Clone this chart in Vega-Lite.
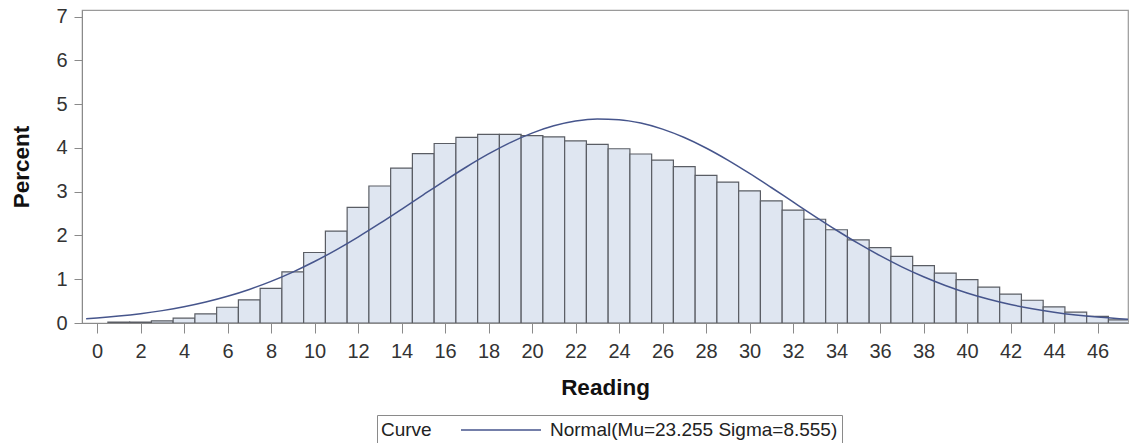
{
  "$schema": "https://vega.github.io/schema/vega-lite/v6.json",
  "autosize": {"type": "none"},
  "width": 1046,
  "height": 313,
  "padding": {"left": 82, "top": 10, "right": 2, "bottom": 120},
  "background": "white",
  "config": {
    "font": "Liberation Sans",
    "view": {"stroke": "#9a9a9a", "strokeWidth": 1.2},
    "axis": {
      "domainColor": "#8a8a8a",
      "tickColor": "#8a8a8a",
      "labelColor": "#333333",
      "titleColor": "#111111",
      "labelFontSize": 20,
      "titleFontSize": 22.5,
      "titleFontWeight": "bold",
      "grid": false,
      "labelFont": "Liberation Sans",
      "titleFont": "Liberation Sans"
    }
  },
  "datasets": {
    "bars": [
      {"reading": 1, "lo": 0.5, "hi": 1.5, "percent": 0.02},
      {"reading": 2, "lo": 1.5, "hi": 2.5, "percent": 0.02},
      {"reading": 3, "lo": 2.5, "hi": 3.5, "percent": 0.05},
      {"reading": 4, "lo": 3.5, "hi": 4.5, "percent": 0.11},
      {"reading": 5, "lo": 4.5, "hi": 5.5, "percent": 0.21},
      {"reading": 6, "lo": 5.5, "hi": 6.5, "percent": 0.36},
      {"reading": 7, "lo": 6.5, "hi": 7.5, "percent": 0.53},
      {"reading": 8, "lo": 7.5, "hi": 8.5, "percent": 0.79},
      {"reading": 9, "lo": 8.5, "hi": 9.5, "percent": 1.17},
      {"reading": 10, "lo": 9.5, "hi": 10.5, "percent": 1.61},
      {"reading": 11, "lo": 10.5, "hi": 11.5, "percent": 2.10},
      {"reading": 12, "lo": 11.5, "hi": 12.5, "percent": 2.64},
      {"reading": 13, "lo": 12.5, "hi": 13.5, "percent": 3.13},
      {"reading": 14, "lo": 13.5, "hi": 14.5, "percent": 3.54},
      {"reading": 15, "lo": 14.5, "hi": 15.5, "percent": 3.87},
      {"reading": 16, "lo": 15.5, "hi": 16.5, "percent": 4.10},
      {"reading": 17, "lo": 16.5, "hi": 17.5, "percent": 4.24},
      {"reading": 18, "lo": 17.5, "hi": 18.5, "percent": 4.31},
      {"reading": 19, "lo": 18.5, "hi": 19.5, "percent": 4.31},
      {"reading": 20, "lo": 19.5, "hi": 20.5, "percent": 4.28},
      {"reading": 21, "lo": 20.5, "hi": 21.5, "percent": 4.25},
      {"reading": 22, "lo": 21.5, "hi": 22.5, "percent": 4.16},
      {"reading": 23, "lo": 22.5, "hi": 23.5, "percent": 4.08},
      {"reading": 24, "lo": 23.5, "hi": 24.5, "percent": 3.98},
      {"reading": 25, "lo": 24.5, "hi": 25.5, "percent": 3.86},
      {"reading": 26, "lo": 25.5, "hi": 26.5, "percent": 3.72},
      {"reading": 27, "lo": 26.5, "hi": 27.5, "percent": 3.57},
      {"reading": 28, "lo": 27.5, "hi": 28.5, "percent": 3.37},
      {"reading": 29, "lo": 28.5, "hi": 29.5, "percent": 3.22},
      {"reading": 30, "lo": 29.5, "hi": 30.5, "percent": 3.02},
      {"reading": 31, "lo": 30.5, "hi": 31.5, "percent": 2.79},
      {"reading": 32, "lo": 31.5, "hi": 32.5, "percent": 2.58},
      {"reading": 33, "lo": 32.5, "hi": 33.5, "percent": 2.37},
      {"reading": 34, "lo": 33.5, "hi": 34.5, "percent": 2.13},
      {"reading": 35, "lo": 34.5, "hi": 35.5, "percent": 1.90},
      {"reading": 36, "lo": 35.5, "hi": 36.5, "percent": 1.72},
      {"reading": 37, "lo": 36.5, "hi": 37.5, "percent": 1.52},
      {"reading": 38, "lo": 37.5, "hi": 38.5, "percent": 1.31},
      {"reading": 39, "lo": 38.5, "hi": 39.5, "percent": 1.14},
      {"reading": 40, "lo": 39.5, "hi": 40.5, "percent": 0.99},
      {"reading": 41, "lo": 40.5, "hi": 41.5, "percent": 0.82},
      {"reading": 42, "lo": 41.5, "hi": 42.5, "percent": 0.66},
      {"reading": 43, "lo": 42.5, "hi": 43.5, "percent": 0.52},
      {"reading": 44, "lo": 43.5, "hi": 44.5, "percent": 0.37},
      {"reading": 45, "lo": 44.5, "hi": 45.5, "percent": 0.25},
      {"reading": 46, "lo": 45.5, "hi": 46.5, "percent": 0.15},
      {"reading": 47, "lo": 46.5, "hi": 47.5, "percent": 0.07}
    ],
    "curve": [
      {"x": -0.5, "pct": 0.0987, "curve": "Normal(Mu=23.255 Sigma=8.555)"},
      {"x": 0, "pct": 0.1159, "curve": "Normal(Mu=23.255 Sigma=8.555)"},
      {"x": 1, "pct": 0.1582, "curve": "Normal(Mu=23.255 Sigma=8.555)"},
      {"x": 2, "pct": 0.2130, "curve": "Normal(Mu=23.255 Sigma=8.555)"},
      {"x": 3, "pct": 0.2828, "curve": "Normal(Mu=23.255 Sigma=8.555)"},
      {"x": 4, "pct": 0.3704, "curve": "Normal(Mu=23.255 Sigma=8.555)"},
      {"x": 5, "pct": 0.4785, "curve": "Normal(Mu=23.255 Sigma=8.555)"},
      {"x": 6, "pct": 0.6100, "curve": "Normal(Mu=23.255 Sigma=8.555)"},
      {"x": 7, "pct": 0.7669, "curve": "Normal(Mu=23.255 Sigma=8.555)"},
      {"x": 8, "pct": 0.9511, "curve": "Normal(Mu=23.255 Sigma=8.555)"},
      {"x": 9, "pct": 1.1635, "curve": "Normal(Mu=23.255 Sigma=8.555)"},
      {"x": 10, "pct": 1.4041, "curve": "Normal(Mu=23.255 Sigma=8.555)"},
      {"x": 11, "pct": 1.6714, "curve": "Normal(Mu=23.255 Sigma=8.555)"},
      {"x": 12, "pct": 1.9626, "curve": "Normal(Mu=23.255 Sigma=8.555)"},
      {"x": 13, "pct": 2.2732, "curve": "Normal(Mu=23.255 Sigma=8.555)"},
      {"x": 14, "pct": 2.5973, "curve": "Normal(Mu=23.255 Sigma=8.555)"},
      {"x": 15, "pct": 2.9275, "curve": "Normal(Mu=23.255 Sigma=8.555)"},
      {"x": 16, "pct": 3.2545, "curve": "Normal(Mu=23.255 Sigma=8.555)"},
      {"x": 17, "pct": 3.5693, "curve": "Normal(Mu=23.255 Sigma=8.555)"},
      {"x": 18, "pct": 3.8613, "curve": "Normal(Mu=23.255 Sigma=8.555)"},
      {"x": 19, "pct": 4.1205, "curve": "Normal(Mu=23.255 Sigma=8.555)"},
      {"x": 20, "pct": 4.3374, "curve": "Normal(Mu=23.255 Sigma=8.555)"},
      {"x": 21, "pct": 4.5038, "curve": "Normal(Mu=23.255 Sigma=8.555)"},
      {"x": 22, "pct": 4.6131, "curve": "Normal(Mu=23.255 Sigma=8.555)"},
      {"x": 23, "pct": 4.6609, "curve": "Normal(Mu=23.255 Sigma=8.555)"},
      {"x": 24, "pct": 4.6454, "curve": "Normal(Mu=23.255 Sigma=8.555)"},
      {"x": 25, "pct": 4.5670, "curve": "Normal(Mu=23.255 Sigma=8.555)"},
      {"x": 26, "pct": 4.4290, "curve": "Normal(Mu=23.255 Sigma=8.555)"},
      {"x": 27, "pct": 4.2369, "curve": "Normal(Mu=23.255 Sigma=8.555)"},
      {"x": 28, "pct": 3.9982, "curve": "Normal(Mu=23.255 Sigma=8.555)"},
      {"x": 29, "pct": 3.7217, "curve": "Normal(Mu=23.255 Sigma=8.555)"},
      {"x": 30, "pct": 3.4173, "curve": "Normal(Mu=23.255 Sigma=8.555)"},
      {"x": 31, "pct": 3.0953, "curve": "Normal(Mu=23.255 Sigma=8.555)"},
      {"x": 32, "pct": 2.7654, "curve": "Normal(Mu=23.255 Sigma=8.555)"},
      {"x": 33, "pct": 2.4373, "curve": "Normal(Mu=23.255 Sigma=8.555)"},
      {"x": 34, "pct": 2.1189, "curve": "Normal(Mu=23.255 Sigma=8.555)"},
      {"x": 35, "pct": 1.8171, "curve": "Normal(Mu=23.255 Sigma=8.555)"},
      {"x": 36, "pct": 1.5372, "curve": "Normal(Mu=23.255 Sigma=8.555)"},
      {"x": 37, "pct": 1.2826, "curve": "Normal(Mu=23.255 Sigma=8.555)"},
      {"x": 38, "pct": 1.0559, "curve": "Normal(Mu=23.255 Sigma=8.555)"},
      {"x": 39, "pct": 0.8573, "curve": "Normal(Mu=23.255 Sigma=8.555)"},
      {"x": 40, "pct": 0.6866, "curve": "Normal(Mu=23.255 Sigma=8.555)"},
      {"x": 41, "pct": 0.5424, "curve": "Normal(Mu=23.255 Sigma=8.555)"},
      {"x": 42, "pct": 0.4228, "curve": "Normal(Mu=23.255 Sigma=8.555)"},
      {"x": 43, "pct": 0.3252, "curve": "Normal(Mu=23.255 Sigma=8.555)"},
      {"x": 44, "pct": 0.2465, "curve": "Normal(Mu=23.255 Sigma=8.555)"},
      {"x": 45, "pct": 0.1844, "curve": "Normal(Mu=23.255 Sigma=8.555)"},
      {"x": 46, "pct": 0.1361, "curve": "Normal(Mu=23.255 Sigma=8.555)"},
      {"x": 47, "pct": 0.0990, "curve": "Normal(Mu=23.255 Sigma=8.555)"},
      {"x": 47.5, "pct": 0.0841, "curve": "Normal(Mu=23.255 Sigma=8.555)"}
    ]
  },
  "layer": [
    {
      "data": {"name": "bars"},
      "mark": {"type": "rect", "fill": "#dfe6f1", "stroke": "#5a5d64", "strokeWidth": 1.2, "clip": true},
      "encoding": {
        "x": {
          "field": "lo", "type": "quantitative",
          "scale": {"domain": [-0.69, 47.4], "nice": false, "zero": false},
          "axis": {
            "title": "Reading",
            "values": [0, 2, 4, 6, 8, 10, 12, 14, 16, 18, 20, 22, 24, 26, 28, 30, 32, 34, 36, 38, 40, 42, 44, 46],
            "tickSize": 10,
            "labelPadding": 8,
            "titlePadding": 15
          }
        },
        "x2": {"field": "hi"},
        "y": {
          "field": "percent", "type": "quantitative",
          "scale": {"domain": [0, 7.15], "nice": false},
          "axis": {
            "title": "Percent",
            "values": [0, 1, 2, 3, 4, 5, 6, 7],
            "tickSize": 8,
            "labelPadding": 7,
            "titlePadding": 22
          }
        },
        "y2": {"datum": 0}
      }
    },
    {
      "data": {"name": "curve"},
      "mark": {"type": "line", "interpolate": "monotone", "strokeWidth": 1.5, "clip": true},
      "encoding": {
        "x": {"field": "x", "type": "quantitative"},
        "y": {"field": "pct", "type": "quantitative"},
        "color": {
          "field": "curve", "type": "nominal",
          "scale": {"range": ["#46558c"]},
          "legend": {
            "title": "Curve",
            "orient": "none",
            "legendX": 295,
            "legendY": 405,
            "direction": "horizontal",
            "titleOrient": "left",
            "titleFontWeight": "normal",
            "titleFontSize": 19,
            "titleColor": "#222222",
            "titleFont": "Liberation Sans",
            "titlePadding": 58,
            "labelFontSize": 19,
            "labelColor": "#222222",
            "labelFont": "Liberation Sans",
            "labelOffset": 38,
            "labelLimit": 500,
            "symbolType": "M-4,0H4",
            "symbolSize": 400,
            "symbolStrokeWidth": 1.5,
            "strokeColor": "#8a8a8a",
            "padding": 4
          }
        }
      }
    }
  ]
}
